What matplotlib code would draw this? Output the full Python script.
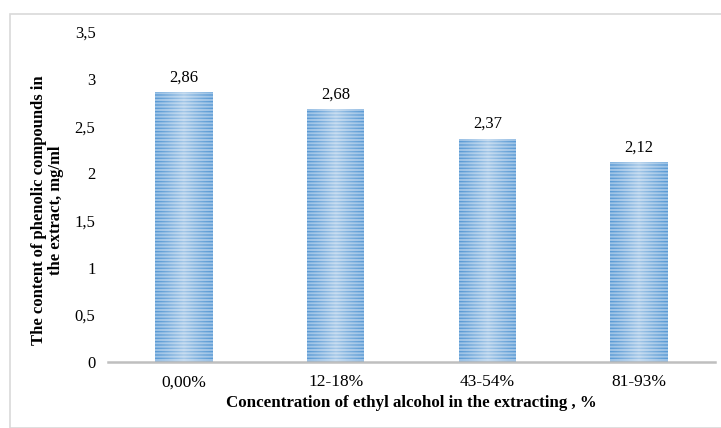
import matplotlib
matplotlib.use("Agg")
import matplotlib.pyplot as plt
import matplotlib.patches as mpatches
import numpy as np

categories = ["0,00%", "12-18%", "43-54%", "81-93%"]
values = [2.86, 2.68, 2.37, 2.12]
value_labels = ["2,86", "2,68", "2,37", "2,12"]
yticks = [0, 0.5, 1, 1.5, 2, 2.5, 3, 3.5]
ytick_labels = ["0", "0,5", "1", "1,5", "2", "2,5", "3", "3,5"]
xlabel = "Concentration of ethyl alcohol in the extracting , %"
ylabel = "The content of phenolic compounds in\nthe extract, mg/ml"

plt.rcParams['font.family'] = ['Liberation Serif', 'DejaVu Serif']
plt.rcParams['hatch.linewidth'] = 1.0

W, H = 721, 428
fig = plt.figure(figsize=(W / 100, H / 100), dpi=100)

# outer border
fig.add_artist(mpatches.Rectangle((10 / W, 0.5 / H), 1.2, (H - 14 - 0.5) / H,
                                  transform=fig.transFigure, fill=False,
                                  edgecolor='#D9D9D9', linewidth=1.2))

ax = fig.add_axes([108 / W, 66 / H, (715 - 108) / W, (362 - 32) / H])
x = np.arange(len(categories))
bars = ax.bar(x, values, width=0.38, facecolor='#9DC3E6', edgecolor='#5B9BD5',
              linewidth=0, hatch='-----', zorder=2)

# horizontal gradient highlight clipped to each bar
n = 64
t = np.linspace(0, 1, n)
alpha = 0.45 * (1 - np.abs(2 * t - 1)) ** 1.2
grad = np.zeros((1, n, 4))
grad[..., :3] = 1.0
grad[0, :, 3] = alpha
for b in bars:
    im = ax.imshow(grad, extent=(b.get_x(), b.get_x() + b.get_width(), 0, b.get_height()),
                   aspect='auto', zorder=3, interpolation='bilinear')
    im.set_clip_path(b)

for xi, v, lab in zip(x, values, value_labels):
    ax.annotate(lab, (xi, v), xytext=(0, 5), textcoords='offset points',
                ha='center', va='bottom', fontsize=12)

ax.set_xlim(-0.5, len(categories) - 0.5)
ax.set_ylim(0, 3.5)
ax.set_yticks(yticks)
ax.set_yticklabels(ytick_labels, fontsize=12)
ax.set_xticks(x)
ax.set_xticklabels(categories, fontsize=12.5)
ax.tick_params(axis='both', length=0)
ax.tick_params(axis='y', pad=9)
ax.tick_params(axis='x', pad=9)
for s in ['top', 'right', 'left']:
    ax.spines[s].set_visible(False)
ax.spines['bottom'].set_color('#BFBFBF')
ax.spines['bottom'].set_linewidth(1.8)
ax.spines['bottom'].set_zorder(4)

ax.set_xlabel(xlabel, fontsize=12.2, fontweight='bold', labelpad=3)
ax.set_ylabel(ylabel, fontsize=12, fontweight='bold', linespacing=1.1)
ax.yaxis.label.set_verticalalignment('center')
ax.yaxis.set_label_coords(-0.1, 0.46)

fig.savefig("out.png", dpi=100)
